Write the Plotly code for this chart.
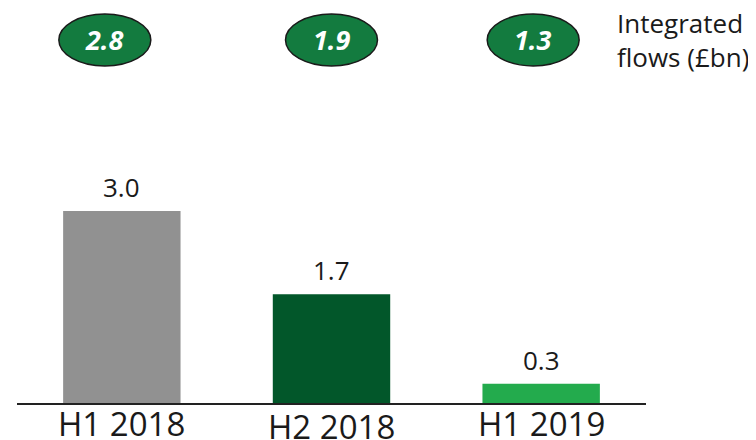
import plotly.graph_objects as go

periods = ["H1 2018", "H2 2018", "H1 2019"]
values = [3.0, 1.7, 0.3]
integrated = [2.8, 1.9, 1.3]

GREY = "#919191"
DARK_GREEN = "#02572A"
GREEN = "#23AB4D"
BADGE = "#137B3F"
INK = "#1A1A1A"
FONT = "Open Sans, sans-serif"

bar_colors = [GREY, DARK_GREEN, GREEN]
badge_nudge = [-17, 0, -8]  # px, badges sit a bit left of the bars
label_nudge = [0, -3, 0]  # px, the middle category label sits a little lower
BADGE_Y = 0.919

fig = go.Figure(
    go.Bar(
        x=list(range(len(periods))), y=values, marker_color=bar_colors,
        marker_line_width=0, width=0.56, hoverinfo="skip",
    )
)

for i, v in enumerate(values):
    fig.add_annotation(
        x=i, y=v, text=f"{v:.1f}", showarrow=False, yanchor="bottom", yshift=4,
        font=dict(size=26, color=INK, family=FONT),
    )

for i, name in enumerate(periods):
    fig.add_annotation(
        x=i, y=0, text=name, showarrow=False, yanchor="top", yshift=4 + label_nudge[i],
        font=dict(size=33, color=INK, family=FONT),
    )

for i, v in enumerate(integrated):
    fig.add_shape(
        type="circle", xref="x", yref="paper", xsizemode="pixel", ysizemode="pixel",
        xanchor=i, yanchor=BADGE_Y, x0=-46 + badge_nudge[i], x1=46 + badge_nudge[i], y0=-26, y1=26,
        fillcolor=BADGE, line=dict(color=INK, width=1.5),
    )
    fig.add_annotation(
        x=i, y=BADGE_Y, xref="x", yref="paper", xshift=badge_nudge[i], yanchor="middle",
        text=f"<b><i>{v:.1f}</i></b>", showarrow=False,
        font=dict(size=27, color="white", family=FONT),
    )

fig.add_annotation(
    x=0.950, y=BADGE_Y, xref="paper", yref="paper", xanchor="left", yanchor="middle", align="left",
    text="Integrated<br>flows (£bn)", showarrow=False,
    font=dict(size=26, color=INK, family=FONT),
)

# page has an 8px body margin, so the figure is drawn 8px smaller than the window
fig.update_layout(
    width=748, height=432,
    margin=dict(l=9, r=110, t=0, b=37),
    paper_bgcolor="white", plot_bgcolor="white",
    showlegend=False,
    font=dict(family=FONT, color=INK),
)
fig.update_xaxes(
    range=[-0.5, 2.5], showticklabels=False,
    showline=True, linecolor="#222222", linewidth=2, showgrid=False, zeroline=False,
    ticks="", automargin=False,
)
fig.update_yaxes(range=[0, 395 / 64], visible=False)

fig.write_html("out.html")
